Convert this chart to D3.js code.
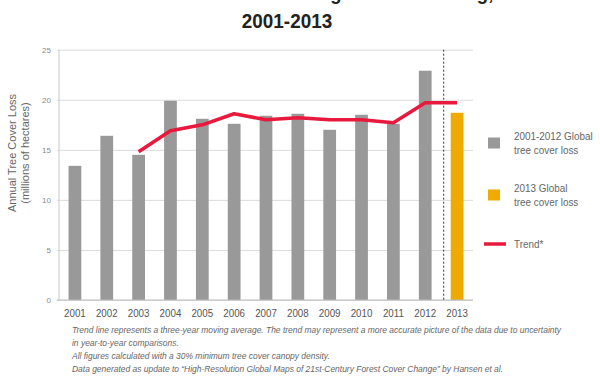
<!DOCTYPE html>
<html>
<head>
<meta charset="utf-8">
<script src="https://cdn.jsdelivr.net/npm/d3@7"></script>
<style>
  html, body { margin: 0; padding: 0; background: #fff; }
  svg { display: block; }
  text { font-family: "Liberation Sans Narrow", "Liberation Sans", Arial, sans-serif; }
</style>
</head>
<body>
<svg id="chart" width="600" height="380"></svg>
<script>
// ---- data ----
const years = ["2001","2002","2003","2004","2005","2006","2007","2008","2009","2010","2011","2012","2013"];
const treeCoverLoss = [13.4, 16.4, 14.5, 19.9, 18.1, 17.6, 18.4, 18.6, 17.0, 18.5, 17.6, 22.9, 18.7];
const trend = [null, null, 14.8, 16.9, 17.5, 18.6, 18.0, 18.2, 18.0, 18.0, 17.7, 19.7, 19.7];
const yTicks = [0, 5, 10, 15, 20, 25];
const legendItems = [
  { type: "rect", color: "#999999", lines: ["2001-2012 Global", "tree cover loss"] },
  { type: "rect", color: "#eeaa00", lines: ["2013 Global", "tree cover loss"] },
  { type: "line", color: "#e8193c", lines: ["Trend*"] }
];
const footnotes = [
  "Trend line represents a three-year moving average. The trend may represent a more accurate picture of the data due to uncertainty",
  "in year-to-year comparisons.",
  "All figures calculated with a 30%  minimum tree cover canopy density.",
  "Data generated as update to \u201cHigh-Resolution Global Maps of 21st-Century Forest Cover Change\u201d by Hansen et al."
];

// ---- layout ----
const svg = d3.select("#chart");
const plot = { left: 59, right: 473, top: 49.7, bottom: 300 };

const x = d3.scaleBand().domain(years).range([plot.left, plot.right]).paddingInner(0.6).paddingOuter(0.3);
const y = d3.scaleLinear().domain([0, 25]).range([plot.bottom, plot.top]);

// titles
svg.append("text")
  .attr("transform", "translate(287,0) scale(0.88,1)")
  .attr("text-anchor", "middle")
  .attr("font-size", 21).attr("font-weight", "bold").attr("fill", "#222")
  .text("Tree Cover Loss Remains High and Increasing,");
svg.append("text")
  .attr("transform", "translate(287,28) scale(0.9,1)")
  .attr("text-anchor", "middle")
  .attr("font-size", 21).attr("font-weight", "bold").attr("fill", "#222")
  .text("2001-2013");

// y axis gridlines
const yAxis = d3.axisLeft(y).tickValues(yTicks).tickSize(-(plot.right - plot.left + 2)).tickPadding(8);
const gy = svg.append("g").attr("transform", `translate(${plot.left - 2},0)`).call(yAxis);
gy.select(".domain").remove();
gy.selectAll(".tick line").attr("stroke", "#dcdcdc").attr("stroke-width", 1);
gy.selectAll(".tick text").attr("fill", "#8a8a8a").attr("font-size", 8).attr("x", -6);

// left axis line
svg.append("line")
  .attr("x1", plot.left).attr("x2", plot.left)
  .attr("y1", y(25)).attr("y2", y(0))
  .attr("stroke", "#c8c8c8").attr("stroke-width", 1);

// bars
svg.append("g").selectAll("rect")
  .data(years.map((yr, i) => ({ yr, v: treeCoverLoss[i] })))
  .join("rect")
  .attr("x", d => x(d.yr))
  .attr("width", x.bandwidth())
  .attr("y", d => y(d.v))
  .attr("height", d => y(0) - y(d.v))
  .attr("fill", d => d.yr === "2013" ? "#eeaa00" : "#999999");

// bottom axis line
svg.append("line")
  .attr("x1", plot.left - 2).attr("x2", plot.right)
  .attr("y1", y(0)).attr("y2", y(0))
  .attr("stroke", "#bcbcbc").attr("stroke-width", 1);

// dashed separator
const sepX = x("2013") - 7;
svg.append("line")
  .attr("x1", sepX).attr("x2", sepX)
  .attr("y1", y(25)).attr("y2", y(0))
  .attr("stroke", "#333").attr("stroke-width", 1).attr("stroke-dasharray", "2,2");

// trend line
const trendData = years.map((yr, i) => ({ yr, v: trend[i] })).filter(d => d.v !== null);
svg.append("path")
  .datum(trendData)
  .attr("fill", "none")
  .attr("stroke", "#e8193c")
  .attr("stroke-width", 3.5)
  .attr("stroke-linejoin", "round")
  .attr("d", d3.line().x(d => x(d.yr) + x.bandwidth() / 2).y(d => y(d.v)));

// x axis labels
const xAxis = d3.axisBottom(x).tickSize(0).tickPadding(9);
const gx = svg.append("g").attr("transform", `translate(0,${y(0)})`).call(xAxis);
gx.select(".domain").remove();
gx.selectAll(".tick text").attr("fill", "#555").attr("font-size", 11.5).attr("transform", "scale(0.85,1)");

// y axis title
const yt = svg.append("text")
  .attr("transform", "translate(16,153) rotate(-90)")
  .attr("text-anchor", "middle").attr("fill", "#666").attr("font-size", 11);
yt.append("tspan").attr("x", 0).attr("dy", 0).text("Annual Tree Cover Loss");
yt.append("tspan").attr("x", 0).attr("dy", 13).text("(millions of hectares)");

// legend
const legendY = [143, 195, 244];
legendItems.forEach((it, i) => {
  const g = svg.append("g").attr("transform", `translate(488,${legendY[i]})`);
  if (it.type === "rect") {
    g.append("rect").attr("x", 0).attr("y", -5.5).attr("width", 12).attr("height", 11).attr("fill", it.color);
  } else {
    g.append("line").attr("x1", -4).attr("x2", 18).attr("y1", 0).attr("y2", 0)
      .attr("stroke", it.color).attr("stroke-width", 3.5);
  }
  const n = it.lines.length;
  it.lines.forEach((ln, j) => {
    g.append("text")
      .attr("transform", `translate(26,${(j - (n - 1) / 2) * 14 + 4}) scale(0.9,1)`)
      .attr("font-size", 11).attr("fill", "#666").text(ln);
  });
});

// footnotes
const footY = [333, 346, 359, 372];
footnotes.forEach((t, i) => {
  svg.append("text")
    .attr("transform", `translate(72,${footY[i]}) scale(0.88,1)`)
    .attr("font-size", 9.6).attr("font-style", "italic").attr("fill", "#666").text(t);
});
</script>
</body>
</html>
